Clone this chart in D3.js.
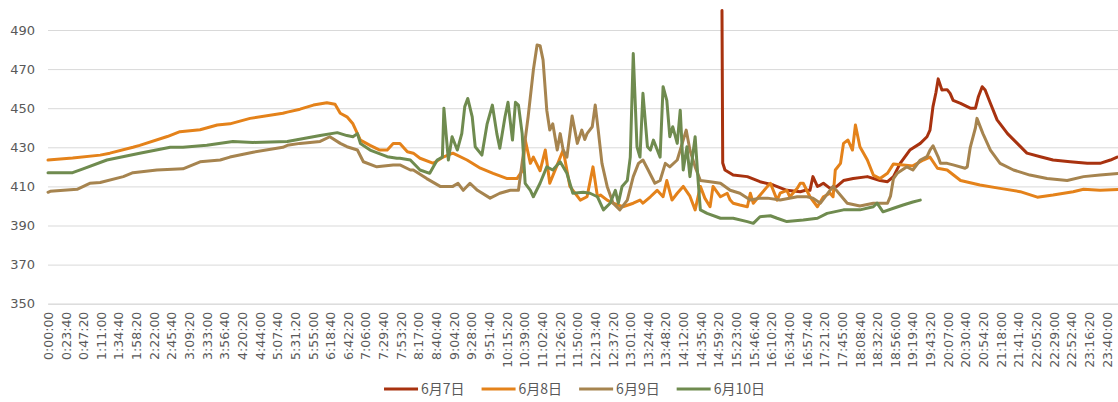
<!DOCTYPE html>
<html>
<head>
<meta charset="utf-8">
<script src="https://cdn.jsdelivr.net/npm/d3@7"></script>
<style>
  body { margin: 0; background: #fff; }
  text { font-family: 'DejaVu Sans', sans-serif; fill: #595959; }
</style>
</head>
<body>
<svg id="chart" width="1118" height="402"></svg>
<script>
const tickLabels = [
  '0:00:00', '0:23:40', '0:47:20', '1:11:00', '1:34:40', '1:58:20', '2:22:00', '2:45:40',
  '3:09:20', '3:33:00', '3:56:40', '4:20:20', '4:44:00', '5:07:40', '5:31:20', '5:55:00',
  '6:18:40', '6:42:20', '7:06:00', '7:29:40', '7:53:20', '8:17:00', '8:40:40', '9:04:20',
  '9:28:00', '9:51:40', '10:15:20', '10:39:00', '11:02:40', '11:26:20', '11:50:00', '12:13:40',
  '12:37:20', '13:01:00', '13:24:40', '13:48:20', '14:12:00', '14:35:40', '14:59:20', '15:23:00',
  '15:46:40', '16:10:20', '16:34:00', '16:57:40', '17:21:20', '17:45:00', '18:08:40', '18:32:20',
  '18:56:00', '19:19:40', '19:43:20', '20:07:00', '20:30:40', '20:54:20', '21:18:00', '21:41:40',
  '22:05:20', '22:29:00', '22:52:40', '23:16:20', '23:40:00'
]
const yTicks = [350, 370, 390, 410, 430, 450, 470, 490]

// [minute of day, value]
const jun7 = [
  [904, 500], [905, 422], [908, 418.4], [919, 415.8], [938, 415], [955, 412.4], [973, 410.7],
  [991, 408], [1009, 407.3], [1016, 408], [1022, 408], [1026, 415], [1032, 410], [1036, 410.7],
  [1040, 411.6], [1049, 409], [1058, 410], [1067, 413], [1080, 414], [1099, 415], [1116, 413],
  [1126, 412.4], [1134, 415], [1143, 421.8], [1156, 428.6], [1170, 432], [1179, 435.4],
  [1183, 438.8], [1187, 450.8], [1191, 458], [1194, 465], [1199, 459.3], [1206, 459.5],
  [1210, 457.6], [1214, 454], [1224, 452.5], [1237, 450], [1244, 450], [1248, 456], [1253, 461],
  [1257, 459.3], [1264, 452.5], [1273, 444], [1287, 437], [1300, 432], [1313, 427], [1331, 425.2],
  [1348, 423.5], [1371, 422.6], [1394, 421.8], [1411, 421.8], [1425, 423.5], [1434, 425]
]
const jun8 = [
  [0, 423.5], [33, 424.5], [70, 426], [83, 427], [114, 430], [123, 431], [160, 435.5], [177, 438],
  [204, 439], [227, 441.4], [244, 442], [271, 444.8], [315, 447.4], [321, 448], [338, 449.5],
  [356, 451.6], [374, 452.8], [385, 452], [392, 447.4], [401, 445.6], [409, 442], [419, 433.7],
  [432, 431], [445, 428.6], [455, 428.6], [463, 432], [472, 432], [482, 427.7], [490, 427],
  [499, 424.4], [517, 421.8], [530, 425], [543, 427], [562, 423.5], [580, 419.3], [597, 416.7],
  [616, 414], [629, 414], [637, 418.4], [640, 434], [647, 421.8], [651, 425], [660, 418],
  [667, 428.6], [673, 411.6], [683, 421], [691, 428.6], [700, 410], [714, 403], [723, 404.7],
  [731, 420], [737, 404.7], [741, 405.6], [750, 403], [758, 401.4], [771, 399.6], [785, 401.4],
  [794, 403], [798, 401.4], [808, 404.7], [817, 408], [825, 404.7], [830, 413], [837, 403],
  [844, 406.5], [852, 410], [861, 405], [868, 398], [875, 410], [881, 404], [888, 399.6],
  [892, 410], [902, 404.7], [911, 406.5], [915, 403], [919, 401.4], [928, 400.5], [938, 399.6],
  [942, 406.5], [946, 401.4], [955, 405.5], [965, 410], [969, 411.6], [978, 403], [982, 406.5],
  [991, 408], [995, 404.7], [1005, 409], [1009, 411.6], [1013, 411.6], [1022, 404.7], [1032, 399.6],
  [1040, 404.7], [1049, 406.5], [1053, 404.7], [1056, 418.4], [1063, 421.8], [1067, 432],
  [1073, 433.7], [1079, 428.6], [1083, 441.4], [1089, 430.3], [1099, 423.5], [1107, 415.8],
  [1116, 414], [1126, 416.7], [1134, 421.5], [1147, 421], [1160, 420.5], [1174, 423.5], [1183, 425],
  [1193, 419.3], [1206, 418.4], [1224, 413], [1250, 410.7], [1277, 409], [1304, 407.3],
  [1327, 404.5], [1348, 405.6], [1375, 407.3], [1389, 408.5], [1411, 408], [1439, 408.5]
]
const jun9 = [
  [0, 407], [3, 407.5], [39, 408.5], [56, 411.6], [70, 412], [101, 415], [114, 417], [146, 418.4],
  [181, 419], [204, 422.6], [231, 423.5], [244, 425], [275, 427.5], [315, 430], [321, 431],
  [338, 432], [365, 433], [378, 435.4], [392, 432], [401, 430.3], [415, 428.6], [423, 422.6],
  [441, 420], [463, 421], [472, 421], [486, 418.4], [490, 418.4], [508, 414], [526, 410], [543, 410],
  [550, 411.6], [557, 408], [566, 411.6], [576, 408], [593, 404], [606, 406.5], [620, 408],
  [631, 408], [637, 425], [644, 445.6], [651, 469.5], [656, 482.3], [660, 482], [664, 474.7],
  [669, 449], [673, 438.8], [677, 442], [683, 428.6], [687, 437], [691, 428.6], [696, 425],
  [703, 446], [710, 432], [716, 438.8], [720, 434], [723, 437], [730, 440.5], [734, 451.6],
  [738, 438.8], [743, 421.8], [750, 410], [758, 401.4], [767, 398], [777, 403], [785, 415],
  [792, 421.8], [798, 423.5], [805, 418.4], [814, 411.6], [821, 413], [828, 421.8], [834, 420],
  [844, 423.5], [852, 433.7], [856, 438.8], [861, 428.6], [868, 420], [875, 413], [888, 412.4],
  [902, 411.6], [915, 408], [928, 406.5], [942, 403], [955, 404], [965, 404], [982, 403],
  [1005, 404.7], [1018, 404.7], [1026, 404], [1036, 401.4], [1053, 410], [1072, 401.4], [1089, 400],
  [1107, 401.4], [1126, 401.4], [1130, 405], [1134, 414], [1139, 416.7], [1152, 420], [1160, 418.4],
  [1170, 423.5], [1179, 425.2], [1183, 428.6], [1187, 430.8], [1194, 425], [1197, 421.8],
  [1206, 421.8], [1214, 421], [1230, 419.3], [1233, 420], [1237, 430], [1244, 440], [1246, 444.8],
  [1254, 437], [1264, 428.6], [1277, 421.8], [1295, 418.4], [1317, 415.8], [1340, 414], [1367, 413],
  [1389, 415], [1411, 415.8], [1439, 416.7]
]
const jun10 = [
  [0, 417], [33, 417], [47, 419], [79, 423.5], [123, 427], [164, 430], [181, 430], [213, 431],
  [248, 433], [275, 432.5], [321, 433], [365, 436], [388, 437.5], [401, 436], [409, 435.4],
  [415, 437], [419, 432], [432, 428.6], [455, 425.2], [468, 424.4], [472, 424.4], [486, 423.5],
  [499, 418.4], [512, 416.7], [522, 423.5], [529, 425], [531, 450], [537, 423.5], [542, 435.4],
  [549, 428.6], [555, 437], [559, 450.8], [563, 455], [569, 445.6], [573, 430.3], [582, 426],
  [589, 442], [596, 451.6], [602, 437], [606, 429.5], [613, 445.6], [617, 453], [623, 433.7],
  [627, 453], [631, 451.6], [636, 437], [640, 411.6], [647, 408], [651, 404.7], [660, 411.6],
  [669, 420], [677, 418.4], [687, 422.6], [696, 416.7], [704, 406.5], [718, 407], [727, 406.5],
  [737, 404.7], [745, 398], [754, 401.4], [761, 408], [765, 401.4], [770, 410], [777, 413],
  [781, 425], [785, 478], [790, 430.3], [794, 425], [798, 457.6], [804, 430.3], [808, 428.6],
  [812, 433.7], [821, 425], [825, 461], [830, 454], [834, 435.4], [838, 440.5], [844, 432],
  [848, 449], [852, 418.4], [857, 430.3], [861, 415], [868, 435.4], [872, 413], [875, 398],
  [884, 396.2], [902, 393.7], [919, 393.7], [938, 392], [946, 391.1], [955, 394.5], [969, 395],
  [978, 393.7], [991, 392], [1013, 392.8], [1032, 393.7], [1045, 396.2], [1067, 398], [1089, 398],
  [1107, 399.6], [1112, 401.4], [1120, 397], [1134, 398.8], [1147, 400.5], [1160, 402], [1170, 403]
]

const seriesNames = ['6月7日', '6月8日', '6月9日', '6月10日']
const seriesData = [jun7, jun8, jun9, jun10]
const seriesColours = ['#a8320f', '#e4821a', '#a6844f', '#6f8b4f']

const svg = d3.select('#chart')
const plotLeft = 48
const plotRight = 1121.6
const plotTop = 10.45
const plotBottom = 303.7

const x = d3.scaleLinear().domain([0, 1440]).range([plotLeft, plotRight])
const y = d3.scaleLinear().domain([350, 500]).range([plotBottom, plotTop])

function toMinutes(s) {
  const p = s.split(':').map(Number)
  return p[0] * 60 + p[1] + p[2] / 60
}

// Gridlines + y labels
const gY = svg.append('g')
  .attr('transform', `translate(${plotLeft},0)`)
  .call(d3.axisLeft(y).tickValues(yTicks).tickSize(-(plotRight - plotLeft)).tickPadding(13))
gY.select('.domain').remove()
gY.selectAll('.tick line').attr('stroke', '#d9d9d9').attr('stroke-width', 1)
gY.selectAll('.tick text')
  .style('font-size', '13px')
  .attr('fill', '#595959')

// x axis
const gX = svg.append('g')
  .attr('transform', `translate(0,${plotBottom})`)
  .call(d3.axisBottom(x)
    .tickValues(tickLabels.map(toMinutes))
    .tickFormat((d, i) => tickLabels[i])
    .tickSize(0)
    .tickSizeOuter(0))
gX.select('.domain').attr('stroke', '#d9d9d9')
gX.selectAll('.tick text')
  .style('font-size', '12.5px')
  .attr('fill', '#595959')
  .attr('transform', 'rotate(-90)')
  .attr('text-anchor', 'end')
  .attr('x', -8)
  .attr('y', 0)
  .attr('dy', '0.35em')

// Lines
const line = d3.line()
  .x(d => x(d[0]))
  .y(d => y(d[1]))

seriesData.forEach((data, i) => {
  svg.append('path')
    .datum(data)
    .attr('d', line)
    .attr('fill', 'none')
    .attr('stroke', seriesColours[i])
    .attr('stroke-width', 3)
    .attr('stroke-linejoin', 'round')
    .attr('stroke-linecap', 'round')
})

// Legend
const legendY = 389
const gLegend = svg.append('g')
let lx = 0
seriesNames.forEach((name, i) => {
  const gItem = gLegend.append('g').attr('transform', `translate(${lx},0)`)
  gItem.append('line')
    .attr('x1', 0).attr('x2', 34)
    .attr('y1', legendY).attr('y2', legendY)
    .attr('stroke', seriesColours[i])
    .attr('stroke-width', 3)
  const t = gItem.append('text')
    .attr('x', 37)
    .attr('y', legendY)
    .attr('dy', '0.36em')
    .style('font-family', "'Noto Sans CJK SC', 'DejaVu Sans', sans-serif")
    .style('font-size', '14px')
    .text(name)
  lx += 37 + t.node().getComputedTextLength() + 17
})
const legendWidth = lx - 17
gLegend.attr('transform', `translate(${574.5 - legendWidth / 2},0)`)
</script>
</body>
</html>
